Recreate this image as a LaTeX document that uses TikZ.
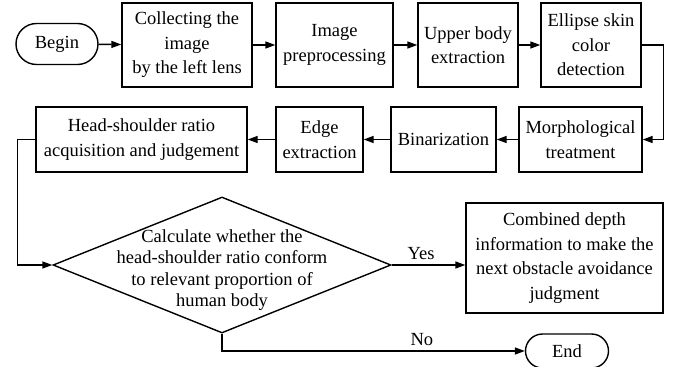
\documentclass[tikz,border=0pt]{standalone}
\usepackage{fontspec}
\setmainfont{Liberation Serif}
\usepackage{tikz}
\usetikzlibrary{positioning, arrows.meta, shapes.geometric, shapes.misc, calc}
\tikzset{
  step box/.style={draw, rectangle, line width=1.4pt, inner sep=0pt, align=center, font=\fontsize{18.5}{24.5}\selectfont},
  term/.style={draw, rounded rectangle, line width=1.4pt, inner sep=0pt, align=center, font=\fontsize{18.5}{24.5}\selectfont},
  decide/.style={draw, diamond, line width=1.4pt, inner sep=0pt},
  flow/.style={line width=1.4pt, -{Triangle[length=10pt,width=7pt]}},
  lbl/.style={font=\fontsize{18.5}{21.5}\selectfont, align=center}
}
\begin{document}
\begin{tikzpicture}[x=1pt, y=-1pt]
  \useasboundingbox (0,0) rectangle (678,367);
  % top row
  \node[term, minimum width=82, minimum height=41] (begin) at (57,44) {Begin};
  \node[step box, minimum width=130, minimum height=84] (collect) at (187,45) {Collecting the\\image\\by the left lens};
  \node[step box, minimum width=117, minimum height=84] (prep) at (334.5,45) {Image\\preprocessing};
  \node[step box, minimum width=100, minimum height=84] (upper) at (468,45) {Upper body\\extraction};
  \node[step box, minimum width=100, minimum height=84] (skin) at (591,45) {Ellipse skin\\color\\detection};
  % second row
  \node[step box, minimum width=123, minimum height=65] (morph) at (580.5,139.5) {Morphological\\treatment};
  \node[step box, minimum width=105, minimum height=65] (binar) at (443.5,139.5) {Binarization};
  \node[step box, minimum width=87, minimum height=65] (edge) at (319.5,139.5) {Edge\\extraction};
  \node[step box, minimum width=211, minimum height=65] (ratio) at (141.5,139.5) {Head-shoulder ratio\\acquisition and judgement};
  % decision and outcomes
  \node[decide, minimum width=338, minimum height=136] (check) at (222,265) {};
  \node[lbl] (checktext) at (222,270) {Calculate whether the\\head-shoulder ratio conform\\to relevant proportion of\\human body};
  \node[step box, minimum width=197, minimum height=110] (depth) at (564.5,258) {Combined depth\\information to make the\\next obstacle avoidance\\judgment};
  \node[term, minimum width=83, minimum height=34] (end) at (567,351) {End};

  \draw[flow] (begin) -- (collect);
  \draw[flow] (collect) -- (prep);
  \draw[flow] (prep) -- (upper);
  \draw[flow] (upper) -- (skin);
  \draw[flow] (skin.east) -- ++(22,0) |- (morph.east);
  \draw[flow] (morph) -- (binar);
  \draw[flow] (binar) -- (edge);
  \draw[flow] (edge) -- (ratio);
  \draw[flow] (ratio.west) -- ++(-18,0) |- (check.west);
  \draw[flow] (check.east) -- node[lbl, above=1pt, pos=0.4] {Yes} (depth.west |- check.east);
  \draw[flow] (check.south) |- node[lbl, above=1pt, pos=0.83] {No} (end.west);
\end{tikzpicture}
\end{document}
